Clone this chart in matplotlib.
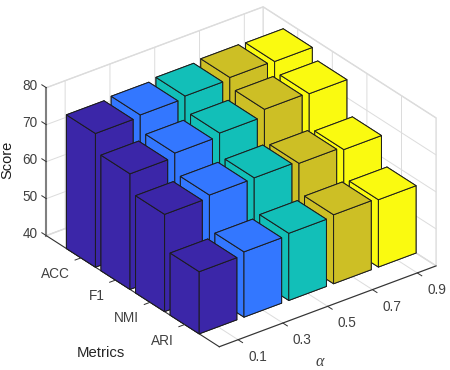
#!/usr/bin/env python3
import matplotlib
matplotlib.use("Agg")
import matplotlib.pyplot as plt
from mpl_toolkits.mplot3d import proj3d

plt.rcParams["font.family"] = ["Liberation Sans", "DejaVu Sans"]

METRICS = ["ACC", "F1", "NMI", "ARI"]
ALPHAS = ["0.1", "0.3", "0.5", "0.7", "0.9"]
ACC = [76.15, 76.65, 77.25, 77.75, 77.55]
F1 = [71.25, 72.35, 73.25, 75.15, 74.85]
NMI = [66.3, 67.0, 67.15, 66.55, 65.75]
ARI = [56.8, 57.65, 58.15, 58.65, 58.2]
SCORES = [ACC, F1, NMI, ARI]
Z_TICKS = [40, 50, 60, 70, 80]
COLORS = ["#3B26A8", "#3377FF", "#12BFB8", "#CDBF25", "#FAFA10"]

WIDTH = 0.84
TICK = 0.13
FLOOR = 40
W, H = 450, 370
SIDE = 417
TEXT = "#404040"
X_MIN, X_MAX = 0.58, 5.42
Y_MAX = 5

fig = plt.figure(figsize=(W / 100, H / 100), dpi=100)
cx, cy = 241.2, 193.2
ax = fig.add_axes([(cx - 0.5135 * SIDE) / W, (cy - 0.5135 * SIDE) / H, SIDE / W, SIDE / H],
                  projection="3d", proj_type="ortho", computed_zorder=False)
ax.patch.set_alpha(0)
ax.view_init(elev=29.3, azim=-127.3)
ax.set_box_aspect((272.8, 285.6, 169.8))

# back rows first, mplot3d depth sorting fails between separate boxes
order = 0
for j, row in enumerate(SCORES):
    for i in reversed(range(len(row))):
        bar = ax.bar3d(i + 1 - WIDTH / 2, j + 1 - WIDTH / 2, FLOOR, WIDTH, WIDTH, row[i] - FLOOR,
                       color=COLORS[i], edgecolor="#1c1c1c", linewidth=0.7, shade=False)
        bar.set_zorder(10 + order)
        order += 1

ax.set_xlim(X_MIN, X_MAX)
ax.set_ylim(Y_MAX, 0)
ax.set_zlim(FLOOR, 80)
ax.set_xticks(range(1, len(ALPHAS) + 1))
ax.set_yticks(range(1, len(METRICS) + 1))
ax.set_zticks(Z_TICKS)
ax.set_xticklabels([])
ax.set_yticklabels([])
ax.set_zticklabels([])

for axis in (ax.xaxis, ax.yaxis, ax.zaxis):
    axis.set_pane_color((1, 1, 1, 1))
    axis.pane.set_edgecolor("#dcdcdc")
    axis._axinfo["grid"].update(color="#dcdcdc", linewidth=0.7)
    axis._axinfo["tick"].update(inward_factor=0.0, outward_factor=0.0)
    axis.line.set_color("#303030")
    axis.line.set_linewidth(0.8)
ax.zaxis.line.set_color("#808080")
ax.zaxis.line.set_linewidth(1.5)

# native 3d ticks do not show on the z axis here, so all three are drawn as lines
tick_style = dict(color="#303030", linewidth=0.7, zorder=99)
for i in range(len(ALPHAS)):
    ax.plot([i + 1, i + 1], [Y_MAX, Y_MAX + TICK], [FLOOR, FLOOR], **tick_style)
for j in range(len(METRICS)):
    ax.plot([X_MIN, X_MIN - TICK], [j + 1, j + 1], [FLOOR, FLOOR], **tick_style)
for z in Z_TICKS:
    ax.plot([X_MIN, X_MIN], [0, -TICK], [z, z], **tick_style)


def label3d(x, y, z, text, ha="center"):
    # projected by hand so the text lands in ordinary 2d axes coordinates
    px, py, _ = proj3d.proj_transform(x, y, z, ax.get_proj())
    ax.text2D(px, py, text, transform=ax.transData, ha=ha, va="center",
              fontsize=9.8, color=TEXT, zorder=100)


for i, label in enumerate(ALPHAS):
    label3d(i + 1 - 0.10, Y_MAX + 0.69, FLOOR, label)
for j, label in enumerate(METRICS):
    label3d(X_MIN - 0.51, j + 1.344, FLOOR, label, ha="right")
for z in Z_TICKS:
    label3d(X_MIN - 0.14, -0.29, z - 0.6, str(z))

fig.text(7 / W, 1 - 160 / H, "Score", rotation=90, ha="center", va="center", fontsize=10.5, color="#1a1a1a")
fig.text(100.7 / W, 1 - 353 / H, "Metrics", ha="center", va="center", fontsize=10.7, color="#262626")
fig.text(319.5 / W, 1 - 361.5 / H, "\u03b1", ha="center", va="center", fontsize=11.5, color=TEXT,
         family="Liberation Serif", style="italic")

fig.savefig("out.png", dpi=100)
